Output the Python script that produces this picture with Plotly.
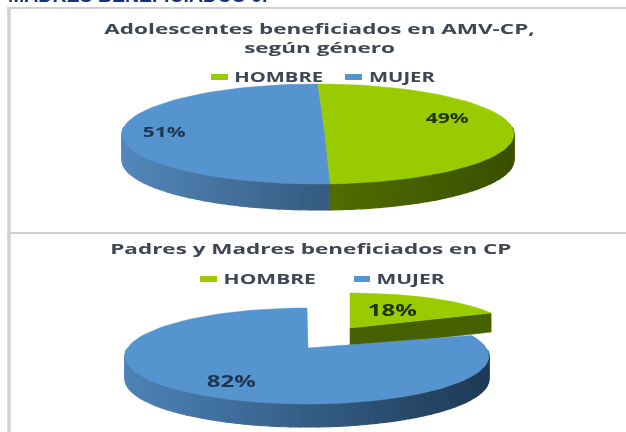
import math
import plotly.graph_objects as go

GENDERS = ["HOMBRE", "MUJER"]
TEEN_SHARES = [49, 51]
PARENT_SHARES = [18, 82]
TITLE_TEEN = "Adolescentes beneficiados en AMV-CP,<br>según género"
TITLE_PARENT = "Padres y Madres beneficiados en CP"
HEADER = "MADRES BENEFICIADOS 6:"

GREEN = "#99cb00"
BLUE = "#5694cf"
GREEN_SIDE = ((84, 112, 0), (58, 80, 0))
BLUE_SIDE_TEEN = ((84, 136, 188), (54, 92, 128))
BLUE_SIDE_PARENT = ((78, 132, 184), (30, 58, 86))
TEXT = "#3d4652"

fig = go.Figure()


def mix(pair, t):
    a, b = pair
    return "rgb(%d,%d,%d)" % tuple(a[i] + (b[i] - a[i]) * t for i in range(3))


def poly(xs, ys, color, width=0.5):
    fig.add_trace(go.Scatter(x=xs, y=ys, mode="lines", fill="toself", fillcolor=color,
                             line=dict(color=color, width=width), hoverinfo="skip",
                             showlegend=False))


def wedge(share_from, share_to, cx, cy, rx, ry, ax, ay, depth, face, side):
    """Tilted pie slice between two cumulative percentages, clockwise from 12 o'clock."""
    a0 = share_from * 3.6
    a1 = share_to * 3.6
    n = max(6, int((a1 - a0) / 3))
    angs = [math.radians(a0 + (a1 - a0) * i / n) for i in range(n + 1)]
    px = [cx + rx * math.sin(a) for a in angs]
    py = [cy - ry * math.cos(a) for a in angs]
    low, high = min(px), max(px)
    for i in range(n):
        if math.cos(angs[i]) < 0.12 or math.cos(angs[i + 1]) < 0.12:
            t = (px[i] - low) / (high - low)
            poly([px[i], px[i + 1], px[i + 1], px[i], px[i]],
                 [py[i], py[i + 1], py[i + 1] + depth, py[i] + depth, py[i]],
                 mix(side, t), width=1.2)
    poly([ax] + px + [ax], [ay] + py + [ay], face)


# --- panels
for y in (8, 233):
    fig.add_shape(type="line", x0=7, x1=626, y0=y, y1=y, line=dict(color="#cfcfcf", width=2))
fig.add_shape(type="line", x0=9, x1=9, y0=8, y1=432, line=dict(color="#d2d2d2", width=3.5))

# --- upper pie
C1 = dict(cx=318, cy=134, rx=196, ry=50, ax=325, ay=134, depth=26)
wedge(TEEN_SHARES[0], 100, face=BLUE, side=BLUE_SIDE_TEEN, **C1)
wedge(0, TEEN_SHARES[0], face=GREEN, side=GREEN_SIDE, **C1)

# --- lower pie: exploded slice first, the large one over it
s = PARENT_SHARES[0]
xs = [350 + 156 * math.sin(math.radians(s * 3.6 * i / 30)) for i in range(31)]
ys = [328 - 35 * math.cos(math.radians(s * 3.6 * i / 30)) for i in range(31)]
poly([350, xs[-1], xs[-1], 350, 350], [328, ys[-1], ys[-1] + 19, 348, 328], mix(GREEN_SIDE, 0.5))
poly([350] + xs + [350], [328] + ys + [328], GREEN)
wedge(s, 100, cx=307, cy=356, rx=182, ry=48, ax=308, ay=348, depth=23, face=BLUE,
      side=BLUE_SIDE_PARENT)

# --- legend swatches
for x0, x1, y0, y1, c in [(211, 228, 74, 80, GREEN), (345, 362, 74, 80, BLUE),
                          (200, 217, 276, 282, GREEN), (354, 370, 276, 282, BLUE)]:
    fig.add_shape(type="rect", x0=x0, x1=x1, y0=y0, y1=y1, fillcolor=c, line_width=0)


def label(x, y, text, size, color=TEXT):
    fig.add_annotation(x=x, y=y, text=f"<b>{text}</b>", showarrow=False,
                       xanchor="center", yanchor="middle",
                       font=dict(family="Open Sans, sans-serif", size=size, color=color))


label(319, 37.5, TITLE_TEEN, 15)
label(311, 248, TITLE_PARENT, 15)
label(278, 77, GENDERS[0], 13.5)
label(402, 77, GENDERS[1], 13.5)
label(270, 278, GENDERS[0], 14)
label(411, 278, GENDERS[1], 14)
label(447, 117, f"{TEEN_SHARES[0]}%", 14, color="#24320a")
label(164, 131, f"{TEEN_SHARES[1]}%", 14, color="#1d3550")
label(392, 310, f"{PARENT_SHARES[0]}%", 16, color="#24320a")
label(231, 381, f"{PARENT_SHARES[1]}%", 16, color="#1d3550")
fig.add_annotation(xref="paper", yref="paper", x=0, y=1, yshift=5, text=f"<b>{HEADER}</b>",
                   showarrow=False, xanchor="left", yanchor="middle", xshift=6,
                   font=dict(family="Liberation Sans", size=19.5, color="#16317d"))

fig.update_layout(width=626, height=432, margin=dict(l=0, r=0, t=0, b=0),
                  paper_bgcolor="white", plot_bgcolor="white",
                  xaxis=dict(range=[0, 626], visible=False, fixedrange=True),
                  yaxis=dict(range=[432, 0], visible=False, fixedrange=True))

# The reference is a horizontally stretched, soft photo of a chart.
POST = """
document.body.style.margin = '0';
document.querySelectorAll('.annotation-text').forEach(function (t) {
  if (t.textContent.indexOf('MADRES') === 0) { return; }
  var b = t.getBBox(), c = b.x + b.width / 2;
  t.setAttribute('transform', 'translate(' + c + ',0) scale(1.5,1) translate(' + (-c) + ',0)');
});
document.querySelectorAll('.main-svg').forEach(function (s) { s.style.filter = 'blur(0.6px)'; });
"""
fig.write_html("out.html", post_script=POST, config={"displayModeBar": False})
